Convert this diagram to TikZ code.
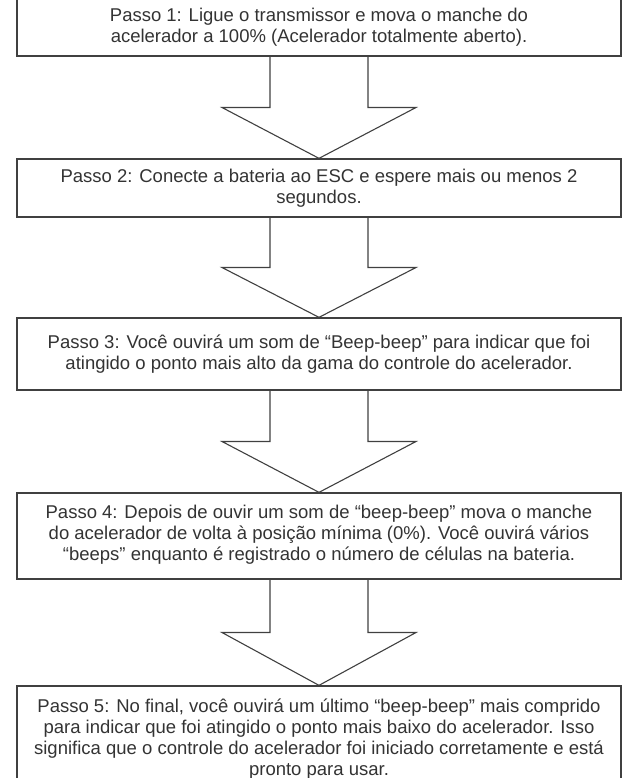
\documentclass[tikz,border=0pt]{standalone}
\usepackage{fontspec}
\setmainfont{Liberation Sans}
\usetikzlibrary{calc}
\definecolor{linegray}{HTML}{404040}
\definecolor{textgray}{HTML}{333333}
\tikzset{
  stepbox/.style={draw=linegray, line width=1.3pt, rectangle, minimum width=604pt,
    inner sep=0pt, align=center, text=textgray,
    font=\fontsize{18.5}{21}\selectfont},
  arrowline/.style={draw=linegray, line width=1.1pt, line join=miter}
}
\newcommand{\flowarrow}[2]{%
  \coordinate (m#1) at ($(#1.south)!0.5!(#2.north)$);
  \draw[arrowline] ([xshift=-49pt]#1.south) -- ([xshift=-49pt]m#1) -- ([xshift=-97pt]m#1)
    -- (#2.north) -- ([xshift=97pt]m#1) -- ([xshift=49pt]m#1) -- ([xshift=49pt]#1.south);
}
\begin{document}
\begin{tikzpicture}[x=1pt,y=-1pt]
\useasboundingbox (0,0) rectangle (635,778);
\clip (0,0) rectangle (635,778);
\node[stepbox, minimum height=57pt] (b1) at (319,27.5)
  {Passo 1: Ligue o transmissor e mova o manche do\\acelerador a 100\% (Acelerador totalmente aberto).};
\node[stepbox, minimum height=58pt] (b2) at (319,188)
  {Passo 2: Conecte a bateria ao ESC e espere mais ou menos 2\\segundos.};
\node[stepbox, minimum height=72pt] (b3) at (319,354)
  {Passo 3: Você ouvirá um som de “Beep-beep” para indicar que foi\\atingido o ponto mais alto da gama do controle do acelerador.};
\node[stepbox, minimum height=86pt] (b4) at (319,536)
  {Passo 4: Depois de ouvir um som de “beep-beep” mova o manche\\do acelerador de volta à posição mínima (0\%). Você ouvirá vários\\“beeps” enquanto é registrado o número de células na bateria.\\[-14pt]\mbox{}};
\node[stepbox, minimum height=112pt] (b5) at (319,742)
  {Passo 5: No final, você ouvirá um último “beep-beep” mais comprido\\para indicar que foi atingido o ponto mais baixo do acelerador. Isso\\significa que o controle do acelerador foi iniciado corretamente e está\\pronto para usar.\\[-12pt]\mbox{}};
\flowarrow{b1}{b2}
\flowarrow{b2}{b3}
\flowarrow{b3}{b4}
\flowarrow{b4}{b5}
\end{tikzpicture}
\end{document}
